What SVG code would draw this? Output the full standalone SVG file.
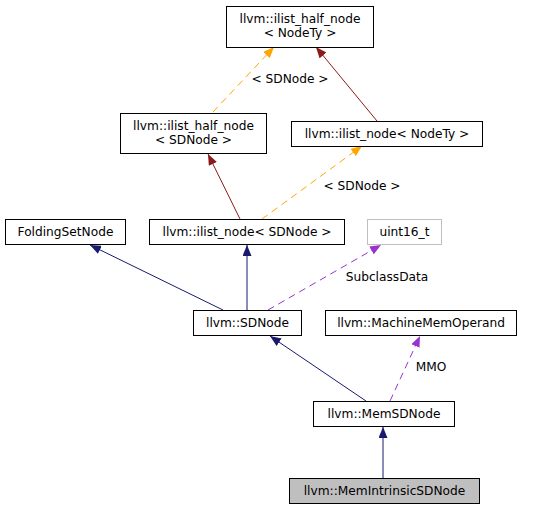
<svg xmlns="http://www.w3.org/2000/svg" width="533" height="509" viewBox="0 0 533 509">
<style>
text{font-family:"DejaVu Sans","Liberation Sans",sans-serif;font-size:12.2px;fill:#000}
.n rect{fill:#fff;stroke:#000;stroke-width:1}
.c{text-anchor:middle}
.e{fill:none;stroke-width:1}
.red{stroke:#8b1a1a}
.org{stroke:#ffa500;stroke-dasharray:7,5}
.nav{stroke:#191970}
.pur{stroke:#9a32cd;stroke-dasharray:7,5}
</style>
<defs>
<marker id="aRed" markerWidth="11" markerHeight="9" refX="11" refY="4.5" orient="auto" markerUnits="userSpaceOnUse"><path d="M0,0 L11,4.5 L0,9 z" fill="#8b1a1a"/></marker>
<marker id="aOrg" markerWidth="11" markerHeight="9" refX="11" refY="4.5" orient="auto" markerUnits="userSpaceOnUse"><path d="M0,0 L11,4.5 L0,9 z" fill="#ffa500"/></marker>
<marker id="aNav" markerWidth="11" markerHeight="9" refX="11" refY="4.5" orient="auto" markerUnits="userSpaceOnUse"><path d="M0,0 L11,4.5 L0,9 z" fill="#191970"/></marker>
<marker id="aPur" markerWidth="11" markerHeight="9" refX="11" refY="4.5" orient="auto" markerUnits="userSpaceOnUse"><path d="M0,0 L11,4.5 L0,9 z" fill="#9a32cd"/></marker>
</defs>
<rect width="533" height="509" fill="#fff"/>
<g id="edges">
<line class="e org" x1="213" y1="112" x2="274" y2="47" marker-end="url(#aOrg)"/>
<text class="c" x="290" y="83">&lt; SDNode &gt;</text>
<line class="e red" x1="377" y1="121" x2="316" y2="47" marker-end="url(#aRed)"/>
<line class="e red" x1="240" y1="219" x2="208" y2="154" marker-end="url(#aRed)"/>
<line class="e org" x1="262" y1="219" x2="362" y2="146" marker-end="url(#aOrg)"/>
<text class="c" x="362" y="190">&lt; SDNode &gt;</text>
<line class="e nav" x1="223" y1="310" x2="90" y2="245" marker-end="url(#aNav)"/>
<line class="e nav" x1="247" y1="310" x2="247" y2="245" marker-end="url(#aNav)"/>
<line class="e pur" x1="268" y1="310" x2="381" y2="245" marker-end="url(#aPur)"/>
<text class="c" x="387" y="281">SubclassData</text>
<line class="e nav" x1="366" y1="401" x2="270" y2="336" marker-end="url(#aNav)"/>
<line class="e pur" x1="390" y1="401" x2="420" y2="336" marker-end="url(#aPur)"/>
<text class="c" x="431" y="371">MMO</text>
<line class="e nav" x1="383" y1="478" x2="383" y2="427" marker-end="url(#aNav)"/>
</g>
<g id="n_ihn_nodety" class="n"><rect x="226.5" y="6.5" width="147" height="41"/><text class="c" x="300" y="23">llvm::ilist_half_node</text><text class="c" x="300" y="37">&lt; NodeTy &gt;</text></g>
<g id="n_ihn_sdnode" class="n"><rect x="120.5" y="113.5" width="146" height="40"/><text class="c" x="193.5" y="130">llvm::ilist_half_node</text><text class="c" x="193.5" y="144">&lt; SDNode &gt;</text></g>
<g id="n_in_nodety" class="n"><rect x="291.5" y="121.5" width="191" height="25"/><text class="c" x="387" y="138">llvm::ilist_node&lt; NodeTy &gt;</text></g>
<g id="n_folding" class="n"><rect x="5.5" y="219.5" width="120" height="25"/><text class="c" x="65.5" y="236">FoldingSetNode</text></g>
<g id="n_in_sdnode" class="n"><rect x="149.5" y="219.5" width="195" height="25"/><text class="c" x="247" y="236">llvm::ilist_node&lt; SDNode &gt;</text></g>
<g id="n_uint16" class="n"><rect x="367.5" y="219.5" width="74" height="25" style="stroke:#bfbfbf"/><text class="c" x="404.5" y="236">uint16_t</text></g>
<g id="n_sdnode" class="n"><rect x="193.5" y="310.5" width="108" height="25"/><text class="c" x="247.5" y="327">llvm::SDNode</text></g>
<g id="n_mmo" class="n"><rect x="325.5" y="310.5" width="191" height="25"/><text class="c" x="421" y="327">llvm::MachineMemOperand</text></g>
<g id="n_memsd" class="n"><rect x="313.5" y="401.5" width="141" height="25"/><text class="c" x="384" y="418">llvm::MemSDNode</text></g>
<g id="n_memintr" class="n"><rect x="289.5" y="478.5" width="190" height="25" style="fill:#bfbfbf"/><text class="c" x="384.5" y="495">llvm::MemIntrinsicSDNode</text></g>
</svg>
